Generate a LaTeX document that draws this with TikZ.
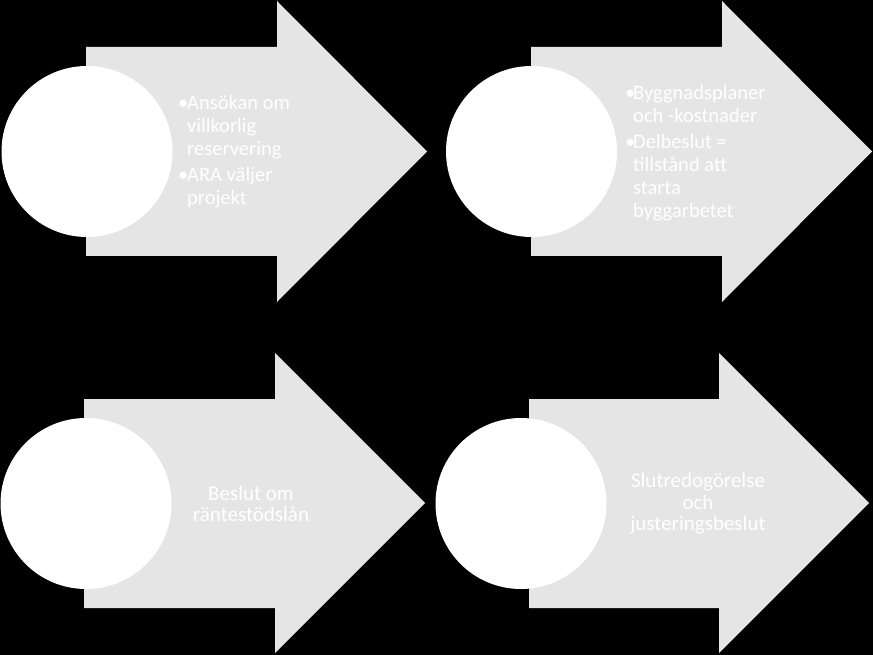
\documentclass[tikz,border=0pt]{standalone}
\usepackage{fontspec}
\setmainfont{Carlito}
\definecolor{arrowgray}{RGB}{229,229,229}
\tikzset{
  arrowbody/.style={fill=arrowgray, draw=none},
  disc/.style={circle, fill=white, draw=none, minimum size=171pt, inner sep=0pt},
  bullettext/.style={text=white, anchor=west, inner sep=0pt, align=left,
    font=\fontsize{20.5}{23}\selectfont},
  centertext/.style={text=white, inner sep=0pt, align=center,
    font=\fontsize{21}{21.5}\selectfont}
}
\begin{document}
\begin{tikzpicture}[x=1pt,y=-1pt]
\fill[black] (0,0) rectangle (873,655);
\useasboundingbox (0,0) rectangle (873,655);
% arrows
\fill[arrowbody] (86,47) -- (277,47) -- (277,1) -- (427,151.5) -- (277,302) -- (277,256) -- (86,256) -- cycle;
\fill[arrowbody] (531,47) -- (722,47) -- (722,1) -- (872,151.5) -- (722,302) -- (722,256) -- (531,256) -- cycle;
\fill[arrowbody] (84,399) -- (275,399) -- (275,353) -- (425,503) -- (275,653) -- (275,608) -- (84,608) -- cycle;
\fill[arrowbody] (529,399) -- (719,399) -- (719,353) -- (869,503) -- (719,653) -- (719,608) -- (529,608) -- cycle;
% circles
\node[disc] (c1) at (87,151.5) {};
\node[disc] (c2) at (531.5,151.5) {};
\node[disc] (c3) at (86,503.5) {};
\node[disc] (c4) at (521,503.5) {};
% texts
\node[bullettext] (t1) at (178,152.5) {\renewcommand{\arraystretch}{1}\setlength{\tabcolsep}{0pt}%
  \begin{tabular}{@{}p{9pt}@{}l@{}}
  \textbullet & Ansökan om\\ & villkorlig\\ & reservering\\[3pt]
  \textbullet & ARA väljer\\ & projekt
  \end{tabular}};
\node[bullettext] (t2) at (625,153.5) {\renewcommand{\arraystretch}{1}\setlength{\tabcolsep}{0pt}%
  \begin{tabular}{@{}p{8pt}@{}l@{}}
  \textbullet & Byggnadsplaner\\ & och -kostnader\\[3pt]
  \textbullet & Delbeslut =\\ & tillstånd att\\ & starta\\ & byggarbetet
  \end{tabular}};
\node[centertext] (t3) at (251,504) {Beslut om\\räntestödslån};
\node[centertext] (t4) at (698,504) {Slutredogörelse\\och\\justeringsbeslut};
\end{tikzpicture}
\end{document}
